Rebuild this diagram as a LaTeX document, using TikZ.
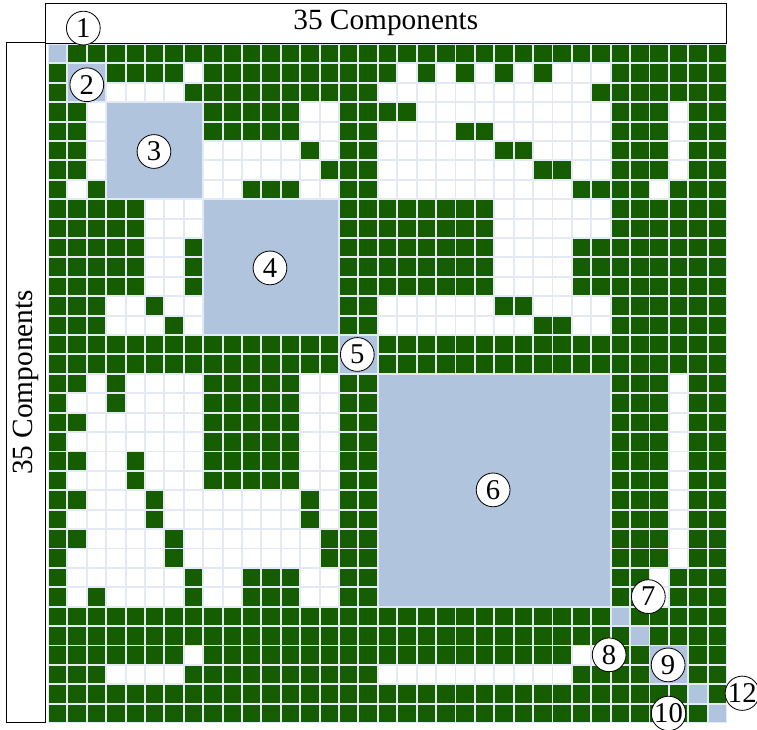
\documentclass[tikz,border=0pt]{standalone}
\usepackage{fontspec}
\setmainfont{Liberation Serif}
\definecolor{cellgreen}{RGB}{22,92,0}
\definecolor{blockblue}{RGB}{176,196,222}
\definecolor{gapblue}{RGB}{228,234,245}
\tikzstyle{full}=[fill=cellgreen]
\tikzstyle{empty}=[fill=white]
\tikzstyle{block}=[fill=blockblue]
\tikzstyle{tag}=[circle, draw=black, fill=white, line width=0.6pt, inner sep=0pt, minimum size=0.87cm, font={\fontsize{21}{21}\selectfont}]
\tikzstyle{caption}=[draw=black, line width=0.6pt, inner sep=0pt, font={\fontsize{21.5}{24}\selectfont}]

\begin{document}
\begin{tikzpicture}
    \useasboundingbox (-1.237,1.134) rectangle (18.27,-17.655);
    \fill[gapblue] (0,0) rectangle (17.5,-17.5);
    % one list per row, 1 = green, 0 = white
    \foreach \row [count=\r from 0] in {
        {1,1,1,1,1, 1,1,1,1,1, 1,1,1,1,1, 1,1,1,1,1, 1,1,1,1,1, 1,1,1,1,1, 1,1,1,1,1},
        {1,1,1,1,1, 1,1,0,1,1, 1,1,1,1,1, 1,1,1,0,1, 0,1,0,1,0, 1,0,0,0,1, 1,1,1,1,1},
        {1,1,1,0,0, 0,0,1,1,1, 1,1,1,1,1, 1,1,0,0,0, 0,0,0,0,0, 0,0,0,1,1, 1,1,1,1,1},
        {1,1,0,1,1, 1,1,1,1,1, 1,1,1,0,0, 1,1,1,1,0, 0,0,0,0,0, 0,0,0,0,1, 1,1,0,1,1},
        {1,1,0,1,1, 1,1,1,1,1, 1,1,1,0,0, 1,1,0,0,0, 0,1,1,0,0, 0,0,0,0,1, 1,1,0,1,1},
        {1,1,0,1,1, 1,1,1,0,0, 0,0,0,1,0, 1,1,0,0,0, 0,0,0,1,1, 0,0,0,0,1, 1,1,0,1,1},
        {1,1,0,1,1, 1,1,1,0,0, 0,0,0,0,1, 1,1,0,0,0, 0,0,0,0,0, 1,1,0,0,1, 1,1,0,1,1},
        {1,0,1,1,1, 1,1,1,0,0, 1,1,1,0,0, 1,1,0,0,0, 0,0,0,0,0, 0,0,1,1,1, 1,0,1,1,1},
        {1,1,1,1,1, 0,0,0,1,1, 1,1,1,1,1, 1,1,1,1,1, 1,1,1,0,0, 0,0,0,0,1, 1,1,1,1,1},
        {1,1,1,1,1, 0,0,0,1,1, 1,1,1,1,1, 1,1,1,1,1, 1,1,1,0,0, 0,0,0,0,1, 1,1,1,1,1},
        {1,1,1,1,1, 0,0,1,1,1, 1,1,1,1,1, 1,1,1,1,1, 1,1,1,0,0, 0,0,1,1,1, 1,1,1,1,1},
        {1,1,1,1,1, 0,0,1,1,1, 1,1,1,1,1, 1,1,1,1,1, 1,1,1,0,0, 0,0,1,1,1, 1,1,1,1,1},
        {1,1,1,1,1, 0,0,1,1,1, 1,1,1,1,1, 1,1,1,1,1, 1,1,1,0,0, 0,0,1,1,1, 1,1,1,1,1},
        {1,1,1,0,0, 1,0,0,1,1, 1,1,1,1,1, 1,1,0,0,0, 0,0,0,1,1, 0,0,0,0,1, 1,1,1,1,1},
        {1,1,1,0,0, 0,1,0,1,1, 1,1,1,1,1, 1,1,0,0,0, 0,0,0,0,0, 1,1,0,0,1, 1,1,1,1,1},
        {1,1,1,1,1, 1,1,1,1,1, 1,1,1,1,1, 1,1,1,1,1, 1,1,1,1,1, 1,1,1,1,1, 1,1,1,1,1},
        {1,1,1,1,1, 1,1,1,1,1, 1,1,1,1,1, 1,1,1,1,1, 1,1,1,1,1, 1,1,1,1,1, 1,1,1,1,1},
        {1,1,0,1,0, 0,0,0,1,1, 1,1,1,0,0, 1,1,1,1,1, 1,1,1,1,1, 1,1,1,1,1, 1,1,0,1,1},
        {1,0,0,1,0, 0,0,0,1,1, 1,1,1,0,0, 1,1,1,1,1, 1,1,1,1,1, 1,1,1,1,1, 1,1,0,1,1},
        {1,1,0,0,0, 0,0,0,1,1, 1,1,1,0,0, 1,1,1,1,1, 1,1,1,1,1, 1,1,1,1,1, 1,1,0,1,1},
        {1,0,0,0,0, 0,0,0,1,1, 1,1,1,0,0, 1,1,1,1,1, 1,1,1,1,1, 1,1,1,1,1, 1,1,0,1,1},
        {1,1,0,0,1, 0,0,0,1,1, 1,1,1,0,0, 1,1,1,1,1, 1,1,1,1,1, 1,1,1,1,1, 1,1,0,1,1},
        {1,0,0,0,1, 0,0,0,1,1, 1,1,1,0,0, 1,1,1,1,1, 1,1,1,1,1, 1,1,1,1,1, 1,1,0,1,1},
        {1,1,0,0,0, 1,0,0,0,0, 0,0,0,1,0, 1,1,1,1,1, 1,1,1,1,1, 1,1,1,1,1, 1,1,0,1,1},
        {1,0,0,0,0, 1,0,0,0,0, 0,0,0,1,0, 1,1,1,1,1, 1,1,1,1,1, 1,1,1,1,1, 1,1,0,1,1},
        {1,1,0,0,0, 0,1,0,0,0, 0,0,0,0,1, 1,1,1,1,1, 1,1,1,1,1, 1,1,1,1,1, 1,1,0,1,1},
        {1,0,0,0,0, 0,1,0,0,0, 0,0,0,0,1, 1,1,1,1,1, 1,1,1,1,1, 1,1,1,1,1, 1,1,0,1,1},
        {1,0,0,0,0, 0,0,1,0,0, 1,1,1,0,0, 1,1,1,1,1, 1,1,1,1,1, 1,1,1,1,1, 1,0,1,1,1},
        {1,0,1,0,0, 0,0,1,0,0, 1,1,1,0,0, 1,1,1,1,1, 1,1,1,1,1, 1,1,1,1,1, 1,0,1,1,1},
        {1,1,1,1,1, 1,1,1,1,1, 1,1,1,1,1, 1,1,1,1,1, 1,1,1,1,1, 1,1,1,1,1, 1,1,1,1,1},
        {1,1,1,1,1, 1,1,1,1,1, 1,1,1,1,1, 1,1,1,1,1, 1,1,1,1,1, 1,1,1,1,1, 1,1,1,1,1},
        {1,1,1,1,1, 1,1,0,1,1, 1,1,1,1,1, 1,1,1,1,1, 1,1,1,1,1, 1,1,0,0,1, 1,1,1,1,1},
        {1,1,1,0,0, 0,0,1,1,1, 1,1,1,1,1, 1,1,0,0,0, 0,0,0,0,0, 0,0,1,1,1, 1,1,1,1,1},
        {1,1,1,1,1, 1,1,1,1,1, 1,1,1,1,1, 1,1,1,1,1, 1,1,1,1,1, 1,1,1,1,1, 1,1,1,1,1},
        {1,1,1,1,1, 1,1,1,1,1, 1,1,1,1,1, 1,1,1,1,1, 1,1,1,1,1, 1,1,1,1,1, 1,1,1,1,1}}{
        \foreach \v [count=\c from 0] in \row {
            \ifnum\v=1 \def\look{full}\else\def\look{empty}\fi
            \path[\look] (\c*0.5+0.025,-\r*0.5-0.025) rectangle ++(0.45,-0.45);
        }
    }
    % diagonal blocks
    \foreach \a/\b in {0/0,1/2,3/7,8/14,15/16,17/28,29/29,30/30,31/32,33/33,34/34}
        \path[block] (\a*0.5+0.025,-\a*0.5-0.025) rectangle (\b*0.5+0.475,-\b*0.5-0.475);

    \node [caption, minimum width=17.53cm, minimum height=1.03cm] (top) at (8.705,0.54) {35 Components};
    \node [caption, rotate=90, minimum width=17.5cm, minimum height=1.02cm] (side) at (-0.57,-8.72) {35 Components};

    \foreach \n/\x/\y in {1/0.91/0.41, 2/1.0/-1.05, 3/2.73/-2.77, 4/5.72/-5.77, 5/7.97/-8.0, 6/11.47/-11.49,
        7/15.47/-14.24, 8/14.46/-15.74, 9/15.98/-16.0, 10/15.99/-17.25, 12/17.89/-16.73}
        \node [tag] (t\n) at (\x,\y) {\n};
\end{tikzpicture}
\end{document}
